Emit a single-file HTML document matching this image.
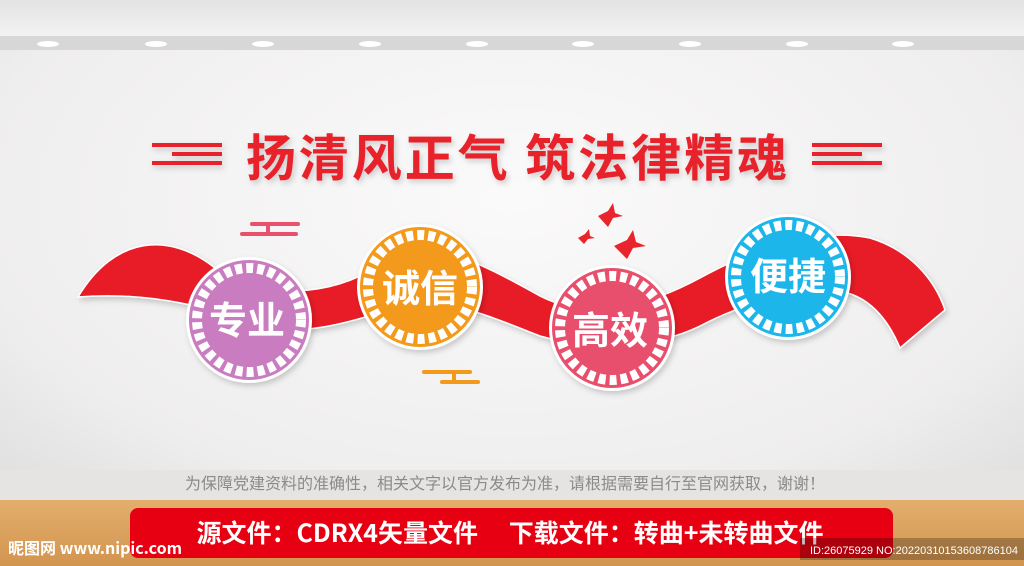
<!DOCTYPE html>
<html><head><meta charset="utf-8"><style>
body{margin:0;width:1024px;height:566px;overflow:hidden;font-family:"Liberation Sans","Noto Sans CJK SC",sans-serif}
</style></head><body>
<svg width="1024" height="566" viewBox="0 0 1024 566" xmlns="http://www.w3.org/2000/svg" style="display:block">
<defs>
<radialGradient id="wall" cx="0.5" cy="0.35" r="0.75">
<stop offset="0" stop-color="#fbfafa"/><stop offset="0.7" stop-color="#efeeee"/><stop offset="1" stop-color="#dddcdc"/></radialGradient>
<linearGradient id="floor" x1="0" y1="0" x2="0" y2="1"><stop offset="0" stop-color="#e3ae6c"/><stop offset="1" stop-color="#d29550"/></linearGradient>
<linearGradient id="ceil" x1="0" y1="0" x2="0" y2="1"><stop offset="0" stop-color="#e4e3e3"/><stop offset="1" stop-color="#f4f3f3"/></linearGradient>
<filter id="sh"><feDropShadow dx="2" dy="3" stdDeviation="3" flood-color="#000" flood-opacity="0.18"/></filter>
</defs>
<rect width="1024" height="566" fill="url(#wall)"/>
<rect width="1024" height="38" fill="url(#ceil)"/>
<rect y="36" width="1024" height="14" fill="#d8d7d7"/>
<g fill="#fff">
<ellipse cx="48" cy="44" rx="11" ry="3"/><ellipse cx="156" cy="44" rx="11" ry="3"/><ellipse cx="263" cy="44" rx="11" ry="3"/><ellipse cx="370" cy="44" rx="11" ry="3"/><ellipse cx="477" cy="44" rx="11" ry="3"/><ellipse cx="583" cy="44" rx="11" ry="3"/><ellipse cx="690" cy="44" rx="11" ry="3"/><ellipse cx="797" cy="44" rx="11" ry="3"/><ellipse cx="903" cy="44" rx="11" ry="3"/></g>
<rect y="470" width="1024" height="30" fill="#e6e4e3"/>
<rect y="500" width="1024" height="66" fill="url(#floor)"/>
<!-- title -->
<g filter="url(#sh)" fill="#e8242c">
<rect x="152" y="143" width="70" height="4"/><rect x="172" y="152" width="50" height="4"/><rect x="152" y="161" width="70" height="4"/>
<rect x="812" y="143" width="70" height="4"/><rect x="812" y="152" width="50" height="4"/><rect x="812" y="161" width="70" height="4"/>
<text x="518" y="176" font-size="50" font-weight="bold" text-anchor="middle" letter-spacing="3" font-family="Noto Sans CJK SC,sans-serif">扬清风正气 筑法律精魂</text>
</g>
<!-- ribbon -->
<path filter="url(#sh)" fill="#e81e28" stroke="#fff" stroke-width="1.5" d="M78,297 C115,235 170,232 215,268 C260,300 330,298 380,265 C430,235 475,260 540,296 C590,322 650,305 700,278 C760,245 820,228 870,238 C910,250 935,280 945,310 L900,348 C880,300 850,288 820,290 C780,294 740,305 700,326 C650,350 590,350 540,336 C480,312 440,296 400,306 C340,326 290,340 240,320 C200,304 140,292 78,297 Z"/>
<!-- decorations -->
<g fill="#e8506c"><rect x="240" y="232" width="58" height="4" rx="2"/><rect x="250" y="222" width="50" height="4" rx="2"/><rect x="266" y="224" width="4" height="10"/></g>
<g fill="#f39a1d"><rect x="422" y="370" width="50" height="4" rx="2"/><rect x="440" y="380" width="40" height="4" rx="2"/><rect x="452" y="372" width="4" height="10"/></g>
<g fill="#e8242c">
<path d="M598,216 l10,-5 l5,-8 l2,10 l8,3 l-10,2 l-5,9z"/>
<path d="M578,238 l7,-4 l4,-5 l1,7 l5,2 l-7,1 l-4,5z"/>
<path d="M614,246 l13,-6 l6,-10 l3,12 l10,4 l-13,2 l-6,11z"/>
</g>
<!-- circles -->
<g filter="url(#sh)">
<g transform="translate(249,320)"><circle r="63" fill="#fff"/><circle r="60" fill="#c97bbf"/><circle r="52" fill="none" stroke="#fff" stroke-width="10" stroke-dasharray="7 4"/><circle r="45" fill="#c97bbf"/></g>
<g transform="translate(420,287)"><circle r="63" fill="#fff"/><circle r="60" fill="#f39a1d"/><circle r="52" fill="none" stroke="#fff" stroke-width="10" stroke-dasharray="7 4"/><circle r="45" fill="#f39a1d"/></g>
<g transform="translate(612,328)"><circle r="63" fill="#fff"/><circle r="60" fill="#e8506c"/><circle r="52" fill="none" stroke="#fff" stroke-width="10" stroke-dasharray="7 4"/><circle r="45" fill="#e8506c"/></g>
<g transform="translate(788,277)"><circle r="63" fill="#fff"/><circle r="60" fill="#1cb6ea"/><circle r="52" fill="none" stroke="#fff" stroke-width="10" stroke-dasharray="7 4"/><circle r="45" fill="#1cb6ea"/></g>
</g>
<g fill="#fff" font-size="38" font-weight="bold" text-anchor="middle" font-family="Noto Sans CJK SC,sans-serif">
<text x="247" y="334">专业</text><text x="420" y="302">诚信</text><text x="610" y="344">高效</text><text x="788" y="290">便捷</text>
</g>
<text x="505" y="489" font-size="16" fill="#8a8a8a" text-anchor="middle" font-family="Noto Sans CJK SC,sans-serif">为保障党建资料的准确性，相关文字以官方发布为准，请根据需要自行至官网获取，谢谢！</text>
<rect x="130" y="508" width="763" height="50" rx="8" fill="#e60012"/>
<text x="510" y="542" font-size="25" font-weight="bold" fill="#fff" text-anchor="middle" font-family="Noto Sans CJK SC,sans-serif">源文件：CDRX4矢量文件　 下载文件：转曲+未转曲文件</text>
<text x="8" y="554" font-size="16" font-weight="bold" fill="#fff" font-family="Noto Sans CJK SC,sans-serif">昵图网 www.nipic.com</text>
<rect x="800" y="538" width="224" height="22" fill="#000" opacity="0.25"/>
<text x="810" y="554" font-size="11" fill="#fff">ID:26075929 NO:20220310153608786104</text>
</svg>
</body></html>
